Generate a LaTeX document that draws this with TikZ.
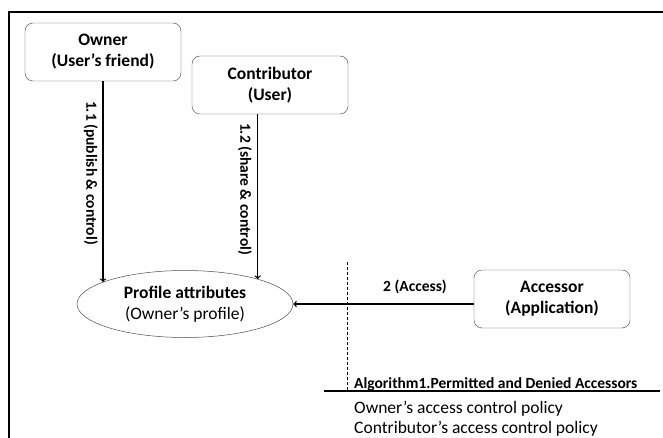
\documentclass[tikz,border=0pt]{standalone}
\usepackage{fontspec}
\setmainfont{Carlito}
\usetikzlibrary{arrows,shapes.geometric}

\begin{document}
\begin{tikzpicture}[x=1pt,y=-1pt]
\tikzset{party/.style={draw=black!75,rounded corners=8pt,minimum width=156pt,minimum height=58pt,align=center,font=\fontsize{17.5}{21}\selectfont\bfseries},
profile/.style={ellipse,draw=black!70,line width=0.5pt,minimum width=216pt,minimum height=67pt,inner sep=0pt,align=center,font=\fontsize{17.5}{21}\selectfont},
flow/.style={->,>=to,line width=1.3pt},
flowlbl/.style={font=\fontsize{15.5}{18}\selectfont\bfseries}}
\useasboundingbox (0,0) rectangle (663,438);
\draw[line width=1.4pt] (9,438) -- (9,12) -- (663,12);
\node[party] (owner) at (103,52) {Owner\\(User's friend)};
\node[party] (contrib) at (270,85) {Contributor\\(User)};
\node[party] (acc) at (552,299) {Accessor\\(Application)};
\node[profile] (prof) at (185,304) {\textbf{Profile attributes}\\(Owner's profile)};
% access paths
\draw[flow] (owner.south) -- (owner.south |- prof.165);
\draw[flow] (prof.19 |- contrib.south) -- (prof.19);
\draw[flow] (acc.west |- prof.east) -- (prof.east);
\node[flowlbl,rotate=-90] (l11) at (91,173) {1.1 (publish \& control)};
\node[flowlbl,rotate=-90] (l12) at (245,189) {1.2 (share \& control)};
\node[flowlbl] (l2) at (415,287) {2 (Access)};
% policy
\draw[dash pattern=on 3pt off 2pt,line width=1pt] (347,262) -- (347,391);
\draw[line width=1.4pt] (324,391) -- (660,391);
\node[flowlbl,anchor=base west,inner sep=0pt] (alg) at (354,388) {Algorithm1.Permitted and Denied Accessors};
\node[anchor=base west,inner sep=0pt,font=\fontsize{17.5}{21}\selectfont] (pol1) at (354,413) {Owner's access control policy};
\node[anchor=base west,inner sep=0pt,font=\fontsize{17.5}{21}\selectfont] (pol2) at (354,433) {Contributor's access control policy};
\end{tikzpicture}
\end{document}
